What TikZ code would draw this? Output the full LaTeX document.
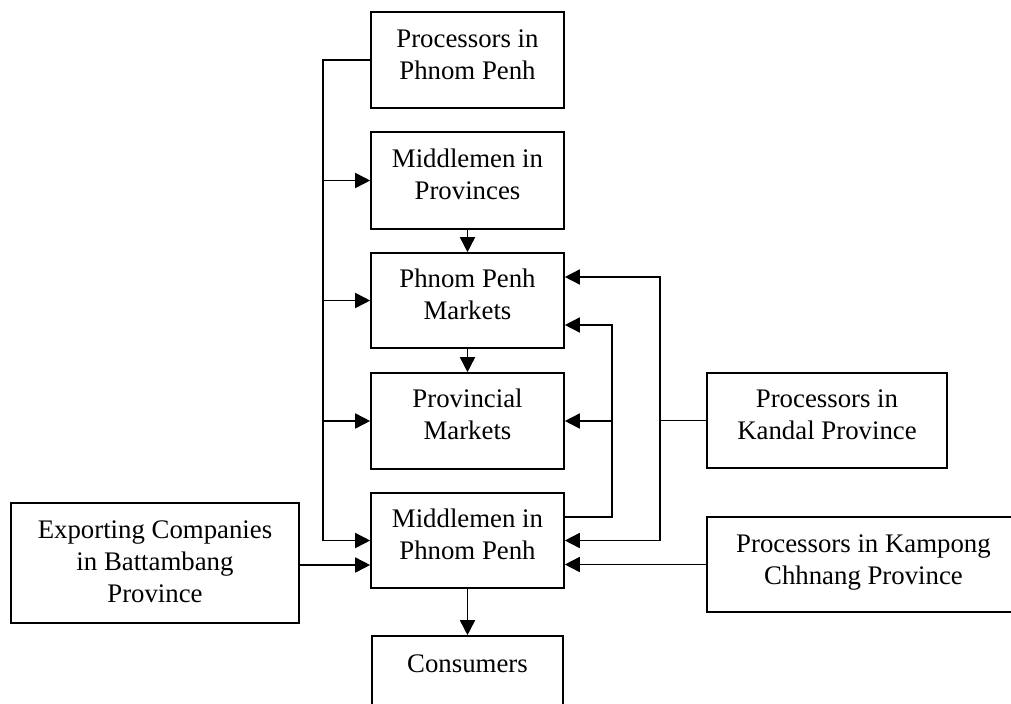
\documentclass[tikz,border=0pt]{standalone}
\usepackage{fontspec}
\setmainfont{Liberation Serif}
\usetikzlibrary{arrows.meta,calc}
\begin{document}
\begin{tikzpicture}[x=1bp,y=-1bp,
  box/.style={draw, line width=1.6bp, inner sep=0pt, minimum width=193bp},
  txt/.style={anchor=north, inner sep=0pt, align=center, font=\fontsize{26.8bp}{32bp}\selectfont},
  conn/.style={line width=1.6bp},
  arr/.style={line width=1.6bp, -{Triangle[length=15bp,width=15bp]}}]
\useasboundingbox (0,0) rectangle (1011,704);
% boxes
\node[box, minimum height=96bp] (b1) at (467.5,60) {};
\node[box, minimum height=97bp] (b2) at (467.5,180.5) {};
\node[box, minimum height=95bp] (b3) at (467.5,300.5) {};
\node[box, minimum height=96bp] (b4) at (467.5,421) {};
\node[box, minimum height=95bp] (b5) at (467.5,540.5) {};
\node[box, minimum width=191bp, minimum height=96bp] (cons) at (467.5,684) {};
\node[box, minimum width=288bp, minimum height=120bp] (exp) at (155,563) {};
\node[box, minimum width=240bp, minimum height=95bp] (kan) at (827,420.5) {};
\node[box, minimum width=313bp, minimum height=95bp] (kam) at (863.5,564.5) {};
% texts
\node[txt] (t1) at (467.5,24.6) {\strut Processors in\\\strut Phnom Penh};
\node[txt] (t2) at (467.5,144.6) {\strut Middlemen in\\\strut Provinces};
\node[txt] (t3) at (467.5,264.6) {\strut Phnom Penh\\\strut Markets};
\node[txt] (t4) at (467.5,384.6) {\strut Provincial\\\strut Markets};
\node[txt] (t5) at (467.5,504.6) {\strut Middlemen in\\\strut Phnom Penh};
\node[txt] (tc) at (467.5,649.6) {\strut Consumers};
\node[txt] (te) at (155,515.6) {\strut Exporting Companies\\\strut in Battambang\\\strut Province};
\node[txt] (tk) at (827,384.6) {\strut Processors in\\\strut Kandal Province};
\node[txt] (tm) at (863.5,529.6) {\strut Processors in Kampong\\\strut Chhnang Province};
% helper coordinates
\coordinate (trunk) at (323,0);
\coordinate (rk) at (660,0);
\coordinate (rm) at (612,0);
\coordinate (b3a) at ($(b3.east)+(0,-23.5)$);
\coordinate (b3b) at ($(b3.east)+(0,24.5)$);
\coordinate (b5a) at ($(b5.east)+(0,-23.5)$);
\coordinate (b5w) at ($(b5.west)+(0,24.5)$);
% left trunk
\draw[arr] (b1.west) -- (trunk |- b1.west) -- (trunk |- b5.west) -- (b5.west);
\draw[arr] (trunk |- b2.west) -- (b2.west);
\draw[arr] (trunk |- b3.west) -- (b3.west);
\draw[arr] (trunk |- b4.west) -- (b4.west);
% vertical chain
\draw[arr] (b2.south) -- (b3.north);
\draw[arr] (b3.south) -- (b4.north);
\draw[arr] (b5.south) -- (cons.north);
% exporting
\draw[arr] (exp.east |- b5w) -- (b5w);
% Kandal
\draw[conn] (kan.west) -- (rk |- kan.west);
\draw[arr] (rk |- kan.west) -- (rk |- b3a) -- (b3a);
\draw[arr] (rk |- kan.west) -- (rk |- b5.east) -- (b5.east);
% Middlemen in Phnom Penh feedback
\draw[arr] (b5a) -- (rm |- b5a) -- (rm |- b3b) -- (b3b);
\draw[arr] (rm |- b4.east) -- (b4.east);
% Kampong
\draw[arr] (kam.west) -- (b5.east |- kam.west);
\end{tikzpicture}
\end{document}
